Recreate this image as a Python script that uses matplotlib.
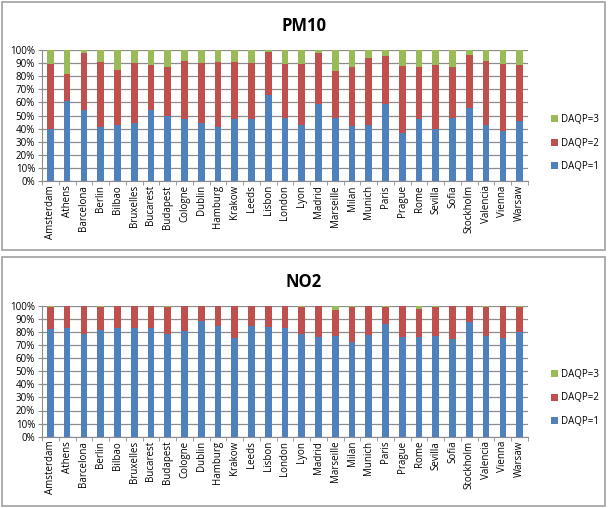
import matplotlib
matplotlib.use('Agg')
from matplotlib import pyplot, patches
from matplotlib.ticker import FixedLocator, FuncFormatter
import numpy

cities = ['Amsterdam', 'Athens', 'Barcelona', 'Berlin', 'Bilbao', 'Bruxelles',
          'Bucarest', 'Budapest', 'Cologne', 'Dublin', 'Hamburg', 'Krakow',
          'Leeds', 'Lisbon', 'London', 'Lyon', 'Madrid', 'Marseille', 'Milan',
          'Munich', 'Paris', 'Prague', 'Rome', 'Sevilla', 'Sofia', 'Stockholm',
          'Valencia', 'Vienna', 'Warsaw']

# percentages per DAQP class
pm10_daqp1 = [40, 61, 54, 41, 43, 44, 54, 50, 47, 44, 41, 47, 47, 66, 48,
              43, 59, 48, 42, 43, 59, 37, 47, 40, 48, 56, 43, 38, 46]
pm10_daqp3 = [11, 18, 2, 9, 15, 10, 11.5, 13, 8.4, 10, 9.4, 9, 10, 1.5, 10.4,
              10.5, 2.5, 16, 13.2, 6.4, 4.6, 12, 13.2, 11.2, 13.2, 4.1, 8.4, 10.4, 11.2]

no2_daqp1 = [82.4, 83.2, 78.6, 81.4, 82.7, 82.7, 82.7, 78.6, 80.9, 88, 84.7, 75.6,
             84.5, 83.5, 83.2, 78.4, 75.8, 77.1, 72.5, 77.6, 85.8, 76.1, 75.8,
             76.8, 74.6, 87.5, 76.8, 75.6, 80.2]
no2_daqp3 = [0.8, 0, 0, 0.8, 0, 0.5, 0, 0.8, 0, 0, 0, 0, 0.5, 0, 0.5, 0.8, 0,
             3.1, 0.8, 0, 1, 0.5, 2.3, 1, 0, 0, 1, 0.5, 0.8]

pm10_daqp2 = [100 - a - c for a, c in zip(pm10_daqp1, pm10_daqp3)]
no2_daqp2 = [100 - a - c for a, c in zip(no2_daqp1, no2_daqp3)]

BLUE, RED, GREEN = '#4f81bd', '#c0504d', '#9bbb59'
GRID = '#8c8c8c'
W, H = 609, 508

pyplot.rcParams['font.family'] = ['Open Sans', 'DejaVu Sans']

fig = pyplot.figure(figsize=(W / 100, H / 100), dpi=100)


def px(x0, y0, x1, y1):
    # pixel box (top-left origin) -> figure fraction rect
    return [x0 / W, 1 - y1 / H, (x1 - x0) / W, (y1 - y0) / H]


def panel(box, axbox, title, title_y, d1, d2, d3, leg_y):
    fig.patches.append(patches.Rectangle((box[0], box[1]), box[2], box[3],
                                         transform=fig.transFigure, fill=False,
                                         edgecolor='#a0a0a0', linewidth=1.2))
    ax = fig.add_axes(axbox)
    x = numpy.arange(len(cities))
    d1 = numpy.array(d1)
    d2 = numpy.array(d2)
    d3 = numpy.array(d3)
    b1 = ax.bar(x, d1, width=0.4, color=BLUE, zorder=3)
    b2 = ax.bar(x, d2, width=0.4, bottom=d1, color=RED, zorder=3)
    b3 = ax.bar(x, d3, width=0.4, bottom=d1 + d2, color=GREEN, zorder=3)
    ax.set_xlim(-0.5, len(cities) - 0.5)
    ax.set_ylim(0, 100)
    ax.set_yticks(numpy.arange(0, 101, 10))
    ax.yaxis.set_major_formatter(FuncFormatter(lambda v, p: '%d%%' % v))
    ax.grid(axis='y', color=GRID, linewidth=0.9, zorder=0)
    ax.set_xticks(x)
    ax.set_xticklabels(cities, rotation=90, fontsize=7)
    ax.xaxis.set_minor_locator(FixedLocator(numpy.arange(-0.5, len(cities), 1)))
    ax.tick_params(axis='x', which='major', length=0, pad=3)
    ax.tick_params(axis='x', which='minor', length=3, color=GRID)
    ax.tick_params(axis='y', length=3, color=GRID, labelsize=7, pad=2)
    for s in ('top', 'right'):
        ax.spines[s].set_visible(False)
    for s in ('left', 'bottom'):
        ax.spines[s].set_color(GRID)
    fig.text(304 / W, 1 - title_y / H, title, ha='center', va='center',
             fontsize=12, fontweight='bold')
    fig.legend([b3, b2, b1], ['DAQP=3', 'DAQP=2', 'DAQP=1'],
               loc='center left', bbox_to_anchor=(542 / W, 1 - leg_y / H),
               frameon=False, fontsize=7, handlelength=0.7, handleheight=0.7,
               handletextpad=0.4, labelspacing=1.3)
    return ax


panel([2 / W, 1 - 250 / H, 603 / W, 248 / H], px(42, 50, 528, 181),
      'PM10', 26, pm10_daqp1, pm10_daqp2, pm10_daqp3, 143)
panel([2 / W, 1 - 506 / H, 603 / W, 249 / H], px(42, 305.7, 528, 436.7),
      'NO2', 282, no2_daqp1, no2_daqp2, no2_daqp3, 398)

pyplot.savefig('out.png', dpi=100)
